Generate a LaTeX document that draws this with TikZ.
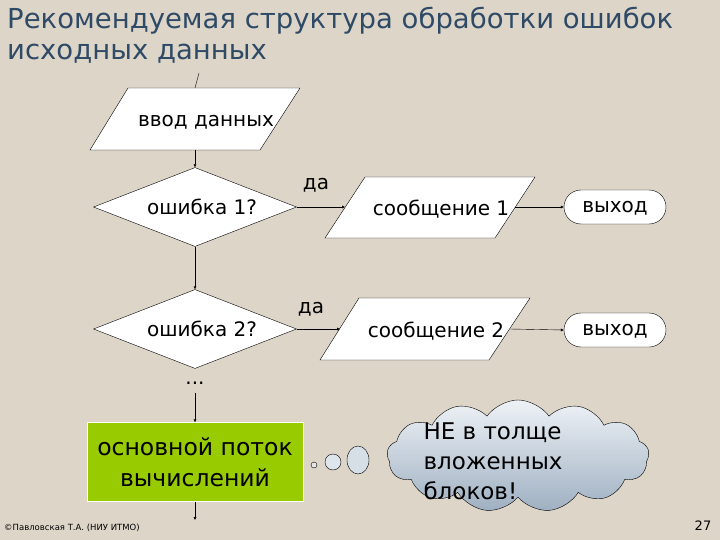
\documentclass[tikz,border=0pt]{standalone}
\usepackage{fontspec}
\setmainfont{DejaVu Sans}
\usetikzlibrary{shapes.geometric,shapes.symbols,arrows.meta}
\definecolor{bg}{HTML}{DDD5C8}
\definecolor{titlec}{HTML}{2E4A66}
\definecolor{greenc}{HTML}{99CC00}
\definecolor{cltop}{HTML}{EEF2F6}
\definecolor{clbot}{HTML}{9FB0C2}
\tikzset{
  lbl/.style={font=\fontsize{20}{24}\selectfont},
  iobox/.style={draw, fill=white},
  dec/.style={diamond, draw, fill=white, minimum width=203pt, minimum height=79pt, aspect=2.6, inner sep=0pt, lbl},
  term/.style={draw, fill=white, rounded corners=17pt, minimum width=102pt, minimum height=34pt, text height=11pt, text depth=1pt, lbl},
  conn/.style={-{Latex[length=3pt,width=3pt]}, thin}
}
\begin{document}
\begin{tikzpicture}[x=1pt,y=-1pt]
\fill[bg] (0,0) rectangle (720,540);
\useasboundingbox (0,0) rectangle (720,540);
\node[anchor=north west, align=left, text=titlec, font=\fontsize{27.5}{31}\selectfont, inner sep=0pt] (title) at (7,7) {Рекомендуемая структура обработки ошибок\\исходных данных};
\coordinate (tp) at (199,73);
\draw[iobox] (128,88) -- (300,88) -- (260,150) -- (90,150) -- cycle;
\draw[iobox] (365,177) -- (535,177) -- (495,238) -- (325,238) -- cycle;
\draw[iobox] (359,298) -- (530,298) -- (489,360) -- (320,360) -- cycle;
\node[lbl] (in) at (206,122) {ввод данных};
\node[lbl] (m1) at (441,209) {сообщение 1};
\node[lbl] (m2) at (436,331) {сообщение 2};
\coordinate (inN) at (195,88);
\coordinate (inS) at (195,150);
\coordinate (m1W) at (345,207);
\coordinate (m1E) at (515,207);
\coordinate (m2W) at (340,329);
\coordinate (m2E) at (510,329);
\node[dec] (d1) at (195,207) {\hspace*{14pt}ошибка 1?};
\node[dec] (d2) at (195,329) {\hspace*{14pt}ошибка 2?};
\node[term] (e1) at (615,207) {выход};
\node[term] (e2) at (615,330) {выход};
\node[lbl] (y1) at (316,185) {да};
\node[lbl] (y2) at (311,309) {да};
\node[lbl] (dots) at (195,383) {...};
\node[draw=white, fill=greenc, minimum width=216pt, minimum height=79pt, align=center, font=\fontsize{23.5}{31}\selectfont] (main) at (195,462) {основной поток\\вычислений};
\coordinate (outc) at (195,520);
\draw (tp) -- (inN);
\draw[conn] (inS) -- (d1.north);
\draw[conn] (d1.south) -- (d2.north);
\draw[conn] (d1.east) -- (m1W);
\draw[conn] (d2.east) -- (m2W);
\draw[conn] (m1E) -- (e1.west);
\draw[conn] (m2E) -- (e2.west);
\draw[conn] (195,393) -- (main.north);
\draw[conn] (main.south) -- (outc);
\node[cloud, cloud puffs=13, cloud puff arc=110, aspect=2.3, draw, minimum width=262pt, minimum height=112pt,
  top color=cltop, bottom color=clbot] (cl) at (518,456) {};
\node[anchor=west, align=left, font=\fontsize{23}{30}\selectfont] (cltxt) at (420,461) {НЕ в толще\\вложенных\\блоков!};
\draw[fill=white!80!gray] (314,465) circle (3);
\draw[fill=cltop!80!clbot] (333,462) ellipse (8 and 8);
\draw[fill=cltop!70!clbot] (358,460) ellipse (11 and 14);
\node[anchor=west, font=\fontsize{8.5}{9}\selectfont, inner sep=0pt] (foot) at (4,528) {©Павловская Т.А. (НИУ ИТМО)};
\node[font=\fontsize{13}{15}\selectfont] (pg) at (703,526) {27};
\end{tikzpicture}
\end{document}
